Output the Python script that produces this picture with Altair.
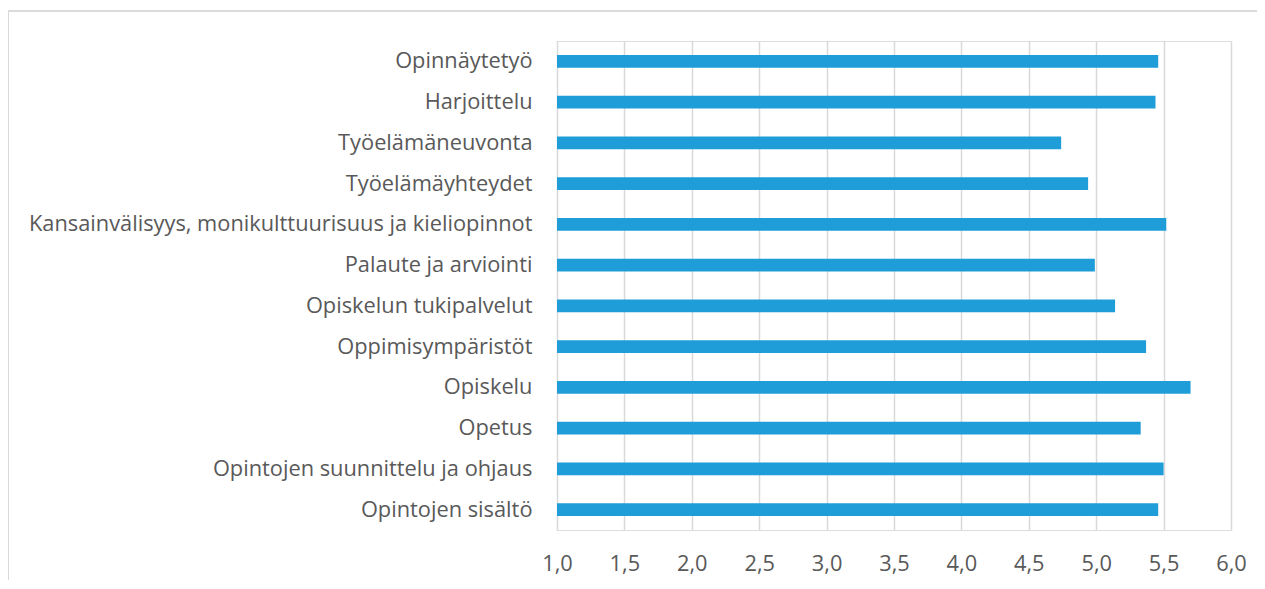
import altair as alt
import pandas as pd

categories = [
    "Opinnäytetyö",
    "Harjoittelu",
    "Työelämäneuvonta",
    "Työelämäyhteydet",
    "Kansainvälisyys, monikulttuurisuus ja kieliopinnot",
    "Palaute ja arviointi",
    "Opiskelun tukipalvelut",
    "Oppimisympäristöt",
    "Opiskelu",
    "Opetus",
    "Opintojen suunnittelu ja ohjaus",
    "Opintojen sisältö",
]
values = [5.46, 5.44, 4.74, 4.94, 5.52, 4.99, 5.14, 5.37, 5.70, 5.33, 5.50, 5.46]
x_ticks = [1.0, 1.5, 2.0, 2.5, 3.0, 3.5, 4.0, 4.5, 5.0, 5.5, 6.0]

df = pd.DataFrame({"kategoria": categories, "arvo": values})

W, H = 674, 489
PAD_L, PAD_T, PAD_R, PAD_B = 549, 33, 26, 50
FONT = "Open Sans"
TXT = "#595959"
GRID = "#D9D9D9"

bars = alt.Chart(df).mark_bar(color="#1F9DD8").encode(
    x=alt.X(
        "arvo:Q",
        scale=alt.Scale(domain=[1, 6], zero=False, nice=False),
        axis=alt.Axis(
            values=x_ticks,
            title=None,
            labelExpr="replace(format(datum.value, '.1f'), '.', ',')",
            labelFont=FONT,
            labelFontSize=21.8,
            labelColor=TXT,
            labelPadding=23,
            labelFlush=False,
            labelOverlap=False,
            ticks=False,
            domain=False,
            grid=True,
            gridColor=GRID,
            gridWidth=1.5,
        ),
    ),
    x2=alt.datum(1),
    y=alt.Y(
        "kategoria:N",
        sort=categories,
        scale=alt.Scale(paddingInner=0.69, paddingOuter=0.345),
        axis=alt.Axis(
            title=None,
            labelFont=FONT,
            labelFontSize=21.8,
            labelColor=TXT,
            labelPadding=25,
            labelLimit=0,
            ticks=False,
            domain=False,
            grid=False,
        ),
    ),
)

frame_top = alt.Chart(df).mark_rule(
    stroke=GRID, strokeWidth=1.2, clip=False
).encode(
    x=alt.value(-PAD_L),
    x2=alt.value(W + PAD_R + 60),
    y=alt.value(-PAD_T + 3),
)

frame_left = alt.Chart(df).mark_rule(
    stroke=GRID, strokeWidth=1.2, clip=False
).encode(
    x=alt.value(-PAD_L),
    y=alt.value(-PAD_T + 3),
    y2=alt.value(H + PAD_B + 60),
)

chart = alt.layer(frame_top, frame_left, bars).properties(
    width=W,
    height=H,
    autosize=alt.AutoSizeParams(type="none"),
    padding={"left": PAD_L, "top": PAD_T, "right": PAD_R, "bottom": PAD_B},
).configure_view(stroke=None).configure(background="white")

chart.save("out.html", embed_options={"renderer": "svg", "actions": False})
